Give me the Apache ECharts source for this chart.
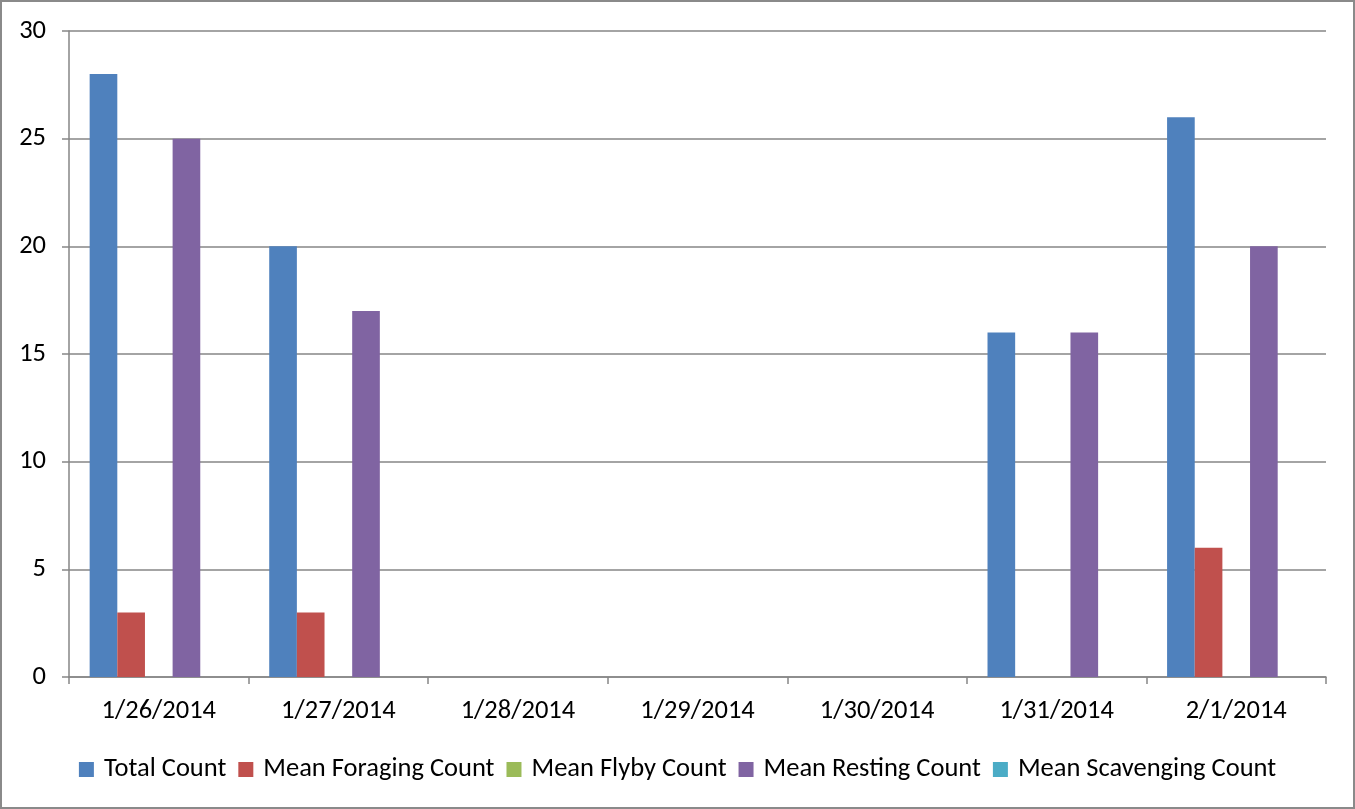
<!DOCTYPE html>
<html>
<head>
<meta charset="utf-8">
<script src="https://cdn.jsdelivr.net/npm/echarts@6/dist/echarts.min.js"></script>
<style>
html,body{margin:0;padding:0;background:#fff;}
#c{width:1355px;height:809px;box-sizing:border-box;border:2px solid #8a8a8a;}
</style>
</head>
<body>
<div id="c"></div>
<script>
var categories = ['1/26/2014','1/27/2014','1/28/2014','1/29/2014','1/30/2014','1/31/2014','2/1/2014'];
var totalCount = [28, 20, 0, 0, 0, 16, 26];
var meanForaging = [3, 3, 0, 0, 0, 0, 6];
var meanFlyby = [0, 0, 0, 0, 0, 0, 0];
var meanResting = [25, 17, 0, 0, 0, 16, 20];
var meanScavenging = [0, 0, 0, 0, 0, 0, 0];
var seriesNames = ['Total Count','Mean Foraging Count','Mean Flyby Count','Mean Resting Count','Mean Scavenging Count'];
var colors = ['#4F81BD','#C0504D','#9BBB59','#8064A2','#4BACC6'];
var seriesData = [totalCount, meanForaging, meanFlyby, meanResting, meanScavenging];

var font = 'Carlito, Calibri, Lato, sans-serif';
var chart = echarts.init(document.getElementById('c'));
chart.setOption({
  animation: false,
  color: colors,
  textStyle: {fontFamily: font},
  grid: {left: 67, right: 27, top: 29, bottom: 130, containLabel: false},
  legend: {
    top: 749,
    left: 'center',
    itemWidth: 15, itemHeight: 15, itemGap: 12,
    icon: 'rect',
    textStyle: {fontSize: 26.5, color: '#000', fontFamily: font, padding: [0,0,0,5]},
    data: seriesNames
  },
  xAxis: {
    type: 'category',
    data: categories,
    axisLine: {lineStyle: {color: '#868686', width: 1.5}},
    axisTick: {show: true, length: 7, alignWithLabel: false, lineStyle: {color: '#868686', width: 1.5}},
    axisLabel: {fontSize: 26.5, color: '#000', margin: 21, fontFamily: font}
  },
  yAxis: {
    type: 'value',
    min: 0, max: 30, interval: 5,
    axisLine: {show: true, lineStyle: {color: '#868686', width: 1.5}},
    axisTick: {show: true, length: 7, inside: false, lineStyle: {color: '#868686', width: 1.5}},
    splitLine: {lineStyle: {color: '#868686', width: 1.5}},
    axisLabel: {fontSize: 26.5, color: '#000', margin: 23, fontFamily: font}
  },
  series: seriesNames.map(function(n, i){
    return {
      name: n, type: 'bar', data: seriesData[i],
      barGap: '0%', barCategoryGap: '23%',
      itemStyle: {color: colors[i]}
    };
  })
});
</script>
</body>
</html>
